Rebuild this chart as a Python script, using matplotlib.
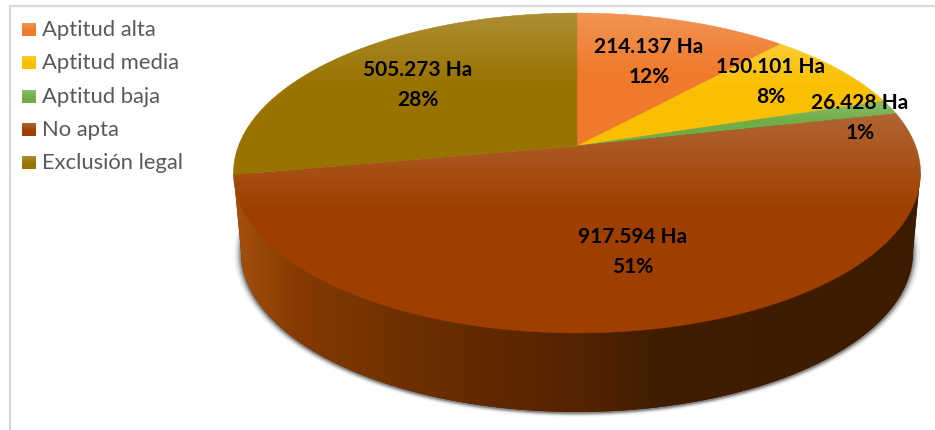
import numpy as np
import matplotlib.pyplot as plt
from matplotlib.patches import Polygon, Ellipse

plt.rcParams['font.family'] = ['Lato', 'DejaVu Sans']

categories = ['Aptitud alta', 'Aptitud media', 'Aptitud baja', 'No apta', 'Exclusión legal']
hectares = [214137, 150101, 26428, 917594, 505273]
percents = [12, 8, 1, 51, 28]
colors = ['#EF7A2B', '#F9BF00', '#70AD47', '#9E3F00', '#997300']

# where each label sits, in pixels
label_x = [649, 771, 860, 633, 418]
label_y = [62, 82, 118, 252, 85]

# pie geometry (pixels): apex, radii and the perspective of the tilted disc
x0, y0 = 577, 147
a, b, k = 338.6, 155.4, 0.1688
depth_y, bottom_rx, bottom_ry = 253, 336, 160


def rim(theta):
    # theta runs clockwise from 12 o'clock
    u, v = np.sin(theta), np.cos(theta)
    w = 1 + k * v
    return x0 + a * u / w, y0 - b * v / w


def white_fade(ax, clip, top, bottom, strength=0.2):
    grad = np.ones((64, 1, 4))
    grad[:, 0, 3] = np.linspace(strength, 0, 64)
    im = ax.imshow(grad, extent=(0, 935, bottom, top), aspect='auto', zorder=clip.get_zorder() + 0.1)
    im.set_clip_path(clip)


fig = plt.figure(figsize=(9.35, 4.31), dpi=100)
ax = fig.add_axes([0, 0, 1, 1])
ax.axis('off')

# frame, only left and top are visible
ax.plot([10, 10, 935], [431, 7, 7], color='#D9D9D9', lw=1.6, zorder=1)

# soft shadow under the pie
for extra, alpha in zip([7, 5.5, 4, 3, 2, 1], [0.05, 0.07, 0.1, 0.14, 0.18, 0.22]):
    ax.add_patch(Ellipse((577, depth_y + 1), 2 * (bottom_rx + extra), 2 * bottom_ry + extra * 1.1,
                         facecolor='#303030', edgecolor='none', alpha=alpha, zorder=2))

# side wall
t = np.linspace(np.pi, 0, 200)
side_x = np.concatenate([[233.5], 577 + bottom_rx * np.cos(t), [920.5]])
side_y = np.concatenate([[174], depth_y + bottom_ry * np.sin(t), [174]])
ax.fill(side_x, side_y, color='#3E1C02', lw=0, zorder=3)
stops_x = [233, 300, 400, 500, 577, 650, 935]
stops_rgb = np.array([[165, 80, 14], [132, 58, 0], [112, 48, 0], [95, 40, 0],
                      [85, 35, 0], [66, 30, 0], [60, 27, 2]]) / 255
xs = np.arange(233, 936)
band = np.stack([np.interp(xs, stops_x, stops_rgb[:, i]) for i in range(3)], axis=1)[None, :, :]
wall = Polygon(np.column_stack([side_x, side_y]), transform=ax.transData, facecolor='none', edgecolor='none', zorder=3)
ax.add_patch(wall)
im = ax.imshow(band, extent=(233, 936, 431, 0), aspect='auto', zorder=3.1)
im.set_clip_path(wall)

# top of the pie, one slice per category
total = sum(hectares)
edges = np.concatenate([[0], np.cumsum(hectares)]) / total * 2 * np.pi
for i in range(len(hectares)):
    th = np.linspace(edges[i], edges[i + 1], 200)
    px, py = rim(th)
    px = np.concatenate([[x0], px])
    py = np.concatenate([[y0], py])
    ax.fill(px, py, color=colors[i], lw=0.3, zorder=4)
    clip = Polygon(np.column_stack([px, py]), transform=ax.transData, facecolor='none', edgecolor='none', zorder=4)
    ax.add_patch(clip)
    white_fade(ax, clip, py.min(), py.min() + 0.45 * (py.max() - py.min()))

# data labels
for i in range(len(hectares)):
    txt = f'{hectares[i]:,}'.replace(',', '.') + ' Ha\n' + f'{percents[i]}%'
    ax.text(label_x[i], label_y[i], txt, ha='center', va='center', fontsize=15,
            fontweight='bold', color='black', linespacing=1.58, zorder=6)

# legend
for i, name in enumerate(categories):
    top = 24 + 33.3 * i
    ax.fill([22, 36, 36, 22], [top, top, top + 13, top + 13], color=colors[i], lw=0, zorder=4)
    sw = Polygon([[22, top], [36, top], [36, top + 13], [22, top + 13]], transform=ax.transData,
                 facecolor='none', edgecolor='none', zorder=4)
    ax.add_patch(sw)
    white_fade(ax, sw, top, top + 8)
    ax.text(41.5, top + 6, name, ha='left', va='center', fontsize=15.8, color='#595959', zorder=6)

ax.set_xlim(0, 935)
ax.set_ylim(431, 0)
fig.savefig('out.png', dpi=100, facecolor='white')
